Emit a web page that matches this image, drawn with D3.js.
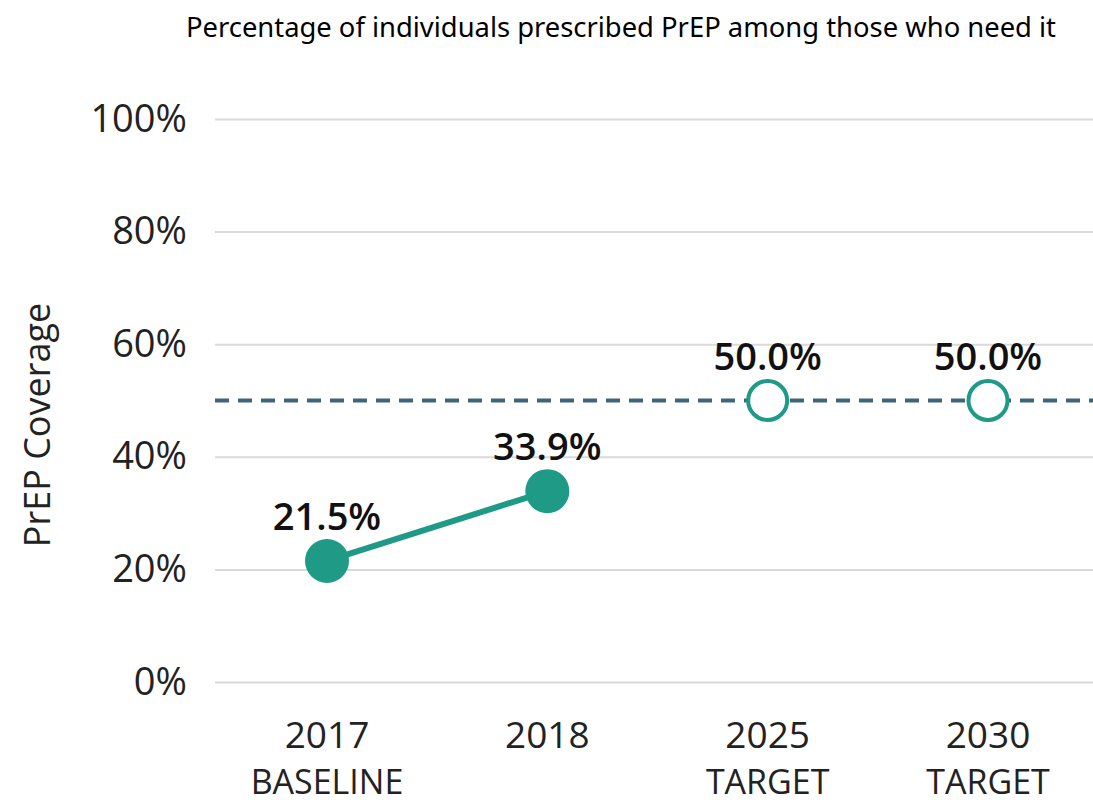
<!DOCTYPE html>
<html>
<head>
<meta charset="utf-8">
<script src="https://cdn.jsdelivr.net/npm/d3@7"></script>
<style>
  body { margin: 0; background: #fff; }
  svg { display: block; }
</style>
</head>
<body>
<div id="chart"></div>
<script>
/* PrEP coverage: baseline, 2018 and targets */

const categories = ["2017", "2018", "2025", "2030"];
const subLabels = ["BASELINE", "", "TARGET", "TARGET"];
const actualValues = [21.5, 33.9, null, null];
const targetValues = [null, null, 50.0, 50.0];
const targetLevel = 50;
const yTicks = [0, 20, 40, 60, 80, 100];

const width = 1093,
    height = 805;

const teal = "#1f9a87",
    dashColor = "#3e6579",
    gridColor = "#d9d9d9";

const svg = d3.select("#chart")
    .append("svg")
    .attr("width", width)
    .attr("height", height)
    .attr("font-family", "'Open Sans', sans-serif");

const x = d3.scalePoint().domain(categories).range([327, 988]);
const y = d3.scaleLinear().domain([0, 100]).range([682, 119]);

// title
svg.append("text")
    .attr("x", 621)
    .attr("y", 37)
    .attr("text-anchor", "middle")
    .attr("font-family", "'Noto Sans', sans-serif")
    .attr("font-size", 27)
    .attr("textLength", 870)
    .attr("lengthAdjust", "spacingAndGlyphs")
    .attr("fill", "#000")
    .text("Percentage of individuals prescribed PrEP among those who need it");

// gridlines + y labels
const yAxis = d3.axisLeft(y)
    .tickValues(yTicks)
    .tickSize(-(1093 - 215))
    .tickPadding(28)
    .tickFormat(d => d + "%");

svg.append("g")
    .attr("transform", "translate(215,0)")
    .call(yAxis)
    .call(g => g.select(".domain").remove())
    .call(g => g.selectAll(".tick line").attr("stroke", gridColor).attr("stroke-width", 2))
    .call(g => g.selectAll(".tick text")
        .attr("font-family", "'Open Sans', sans-serif")
        .attr("font-size", 38)
        .attr("fill", "#222"));

// y title
svg.append("text")
    .attr("transform", "translate(50,425) rotate(-90)")
    .attr("text-anchor", "middle")
    .attr("font-size", 36)
    .attr("fill", "#222")
    .text("PrEP Coverage");

// x labels, two lines each
svg.append("g")
    .selectAll("text")
    .data(categories)
    .join("text")
    .attr("x", d => x(d))
    .attr("y", 748)
    .attr("text-anchor", "middle")
    .attr("font-size", 37)
    .attr("fill", "#222")
    .text(d => d);

svg.append("g")
    .selectAll("text")
    .data(categories)
    .join("text")
    .attr("x", d => x(d))
    .attr("y", 794)
    .attr("text-anchor", "middle")
    .attr("font-size", 34)
    .attr("fill", "#222")
    .text((d, i) => subLabels[i]);

// target dashed line
svg.append("line")
    .attr("x1", 215)
    .attr("x2", 1093)
    .attr("y1", y(targetLevel))
    .attr("y2", y(targetLevel))
    .attr("stroke", dashColor)
    .attr("stroke-width", 4)
    .attr("stroke-dasharray", "14 9");

// actual line
const actual = categories.map((c, i) => ({ cat: c, v: actualValues[i] })).filter(d => d.v != null);
const targets = categories.map((c, i) => ({ cat: c, v: targetValues[i] })).filter(d => d.v != null);

const line = d3.line().x(d => x(d.cat)).y(d => y(d.v));

svg.append("path")
    .datum(actual)
    .attr("d", line)
    .attr("fill", "none")
    .attr("stroke", teal)
    .attr("stroke-width", 6);

svg.append("g")
    .selectAll("circle")
    .data(actual)
    .join("circle")
    .attr("cx", d => x(d.cat))
    .attr("cy", d => y(d.v))
    .attr("r", 22)
    .attr("fill", teal);

svg.append("g")
    .selectAll("circle")
    .data(targets)
    .join("circle")
    .attr("cx", d => x(d.cat))
    .attr("cy", d => y(d.v))
    .attr("r", 19.5)
    .attr("fill", "#fff")
    .attr("stroke", teal)
    .attr("stroke-width", 4);

// value labels
svg.append("g")
    .selectAll("text")
    .data(actual.concat(targets))
    .join("text")
    .attr("x", d => x(d.cat))
    .attr("y", d => y(d.v) - 31)
    .attr("text-anchor", "middle")
    .attr("font-size", 38)
    .attr("font-weight", 600)
    .attr("fill", "#111")
    .text(d => d.v.toFixed(1) + "%");
</script>
</body>
</html>
